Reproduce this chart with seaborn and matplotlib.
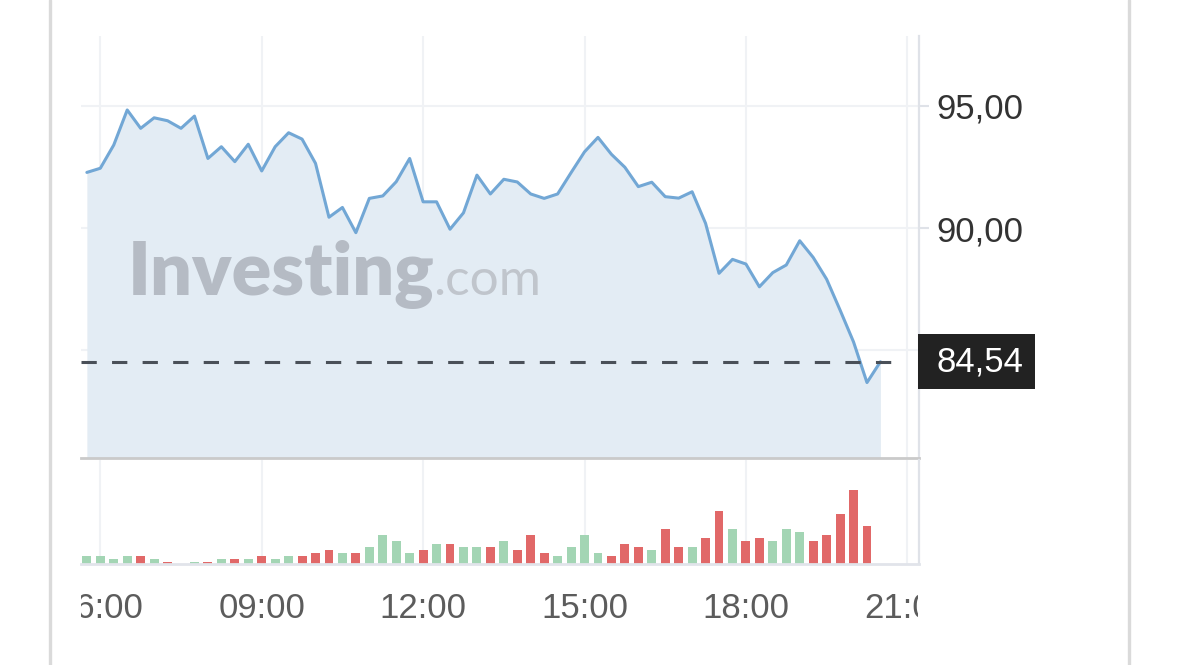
import numpy as np
import pandas as pd
import matplotlib
matplotlib.use("Agg")
import matplotlib.pyplot as plt
import seaborn as sns
from matplotlib.transforms import Bbox, TransformedBbox, blended_transform_factory
from matplotlib.lines import Line2D
from matplotlib.patches import Rectangle

# ---------------- data ----------------
price = [92.27, 92.44, 93.39, 94.82, 94.07, 94.50, 94.38, 94.07, 94.57, 92.84,
         93.32, 92.71, 93.42, 92.33, 93.32, 93.89, 93.63, 92.64, 90.44, 90.84,
         89.81, 91.21, 91.31, 91.89, 92.84, 91.07, 91.07, 89.95, 90.62, 92.16,
         91.39, 91.99, 91.88, 91.39, 91.21, 91.39, 92.26, 93.11, 93.70, 93.01,
         92.48, 91.69, 91.87, 91.28, 91.22, 91.48, 90.19, 88.15, 88.72, 88.53,
         87.60, 88.18, 88.49, 89.48, 88.80, 87.91, 86.65, 85.35, 83.69, 84.54]
volume = [8, 8, 5, 8, 8, 5, 2, 0, 2, 2,
          5, 5, 5, 8, 5, 8, 8, 11, 14, 11,
          11, 17, 29, 23, 11, 14, 20, 20, 17, 17,
          17, 23, 14, 29, 11, 8, 17, 29, 11, 8,
          20, 17, 14, 35, 17, 17, 26, 53, 35, 23,
          26, 23, 35, 32, 23, 29, 50, 74, 38]
direction = list("GGGGRGRGGR" "GRGRGGRRRG" "RGGGGRGRGG" "RGRRRGGGGR"
                 "RRGRRGRRGR" "RGGGRRRRR")
tick_hours = [6, 9, 12, 15, 18, 21]
tick_labels = ["06:00", "09:00", "12:00", "15:00", "18:00", "21:00"]
ytick_values = [85, 90, 95]
ytick_labels = ["", "90,00", "95,00"]
last_price = 84.54
last_label = "84,54"

times = pd.date_range("2024-01-01 05:45", periods=len(price), freq="15min")
hours = np.asarray(times.hour + times.minute / 60.0, dtype=float)

# ---------------- style ----------------
sns.set_theme(style="white")
plt.rcParams["font.family"] = ["Liberation Sans", "DejaVu Sans"]

W, H = 1179, 665
fig = plt.figure(figsize=(W / 100, H / 100), dpi=100)
fig.patch.set_facecolor("white")

def fx(px):
    return px / W

def fy(py):
    return 1 - py / H

left, right = 81, 919
ax = fig.add_axes([fx(left), fy(458), (right - left) / W, (458 - 36) / H])
axv = fig.add_axes([fx(left), fy(564), (right - left) / W, (564 - 460) / H])

XMIN, XMAX = 5.641, 21.217
YMIN, YMAX = 80.61, 97.84

LINE = "#72a7d5"
FILL = "#e3ecf4"
GREEN = "#a3d5b4"
RED = "#e16868"
GRID = "#f0f2f5"
SPINE = "#dfe2e8"

# price area + line
ax.fill_between(hours, price, YMIN, color=FILL, lw=0, zorder=1)
sns.lineplot(x=hours, y=price, ax=ax, color=LINE, lw=2.2, zorder=3)
ax.axhline(last_price, xmin=0, xmax=0.983, color="#4a5058", lw=2.2,
           dashes=(5, 5), zorder=4)

ax.set_xlim(XMIN, XMAX)
ax.set_ylim(YMIN, YMAX)
ax.set_xticks(tick_hours)
ax.set_yticks(ytick_values)
ax.set_yticklabels(ytick_labels)
ax.yaxis.tick_right()
ax.tick_params(axis="x", length=0, labelbottom=False)
ax.tick_params(axis="y", length=7, width=1.5, color=SPINE, pad=5.5,
               labelsize=25, labelcolor="#333333")
ax.grid(True, color=GRID, lw=1.5, zorder=0)
ax.set_axisbelow(True)
for s in ["left", "top"]:
    ax.spines[s].set_visible(False)
ax.spines["right"].set_color(SPINE)
ax.spines["right"].set_linewidth(1.6)
ax.spines["bottom"].set_color("#cacaca")
ax.spines["bottom"].set_linewidth(2.0)

# watermark
ax.text(fx(128), fy(295), "Investing", transform=fig.transFigure,
        fontfamily="Lato", fontweight="heavy", fontsize=53, color="#b5bbc4",
        ha="left", va="baseline", zorder=2)
ax.text(fx(433), fy(295), ".com", transform=fig.transFigure,
        fontfamily="Lato", fontweight="normal", fontsize=37, color="#c0c5cc",
        ha="left", va="baseline", zorder=2)

# last price label
bt = blended_transform_factory(ax.transAxes, ax.transData)
box_h = 55 / ((458 - 36) / (YMAX - YMIN))
ax.add_patch(Rectangle(((918 - left) / (right - left), last_price - box_h / 2),
                       117 / (right - left), box_h, transform=bt,
                       facecolor="#222222", edgecolor="none", clip_on=False,
                       zorder=6))
ax.text((937 - left) / (right - left), last_price, last_label, transform=bt,
        ha="left", va="center", fontsize=25, color="white", zorder=7,
        clip_on=False)

# volume bars
cols = [GREEN if d == "G" else RED for d in direction]
axv.bar(hours[:len(volume)], volume, width=0.165, color=cols, lw=0, zorder=2)
axv.set_xlim(XMIN, XMAX)
axv.set_ylim(0, 104)
axv.set_xticks(tick_hours)
axv.set_xticklabels(tick_labels)
axv.set_yticks([])
axv.tick_params(axis="x", length=11, width=1.5, color=SPINE, pad=9,
                labelsize=25, labelcolor="#5c5c5c")
axv.grid(True, axis="x", color=GRID, lw=1.5, zorder=0)
axv.set_axisbelow(True)
for s in ["left", "top"]:
    axv.spines[s].set_visible(False)
axv.spines["right"].set_color(SPINE)
axv.spines["right"].set_linewidth(1.6)
axv.spines["bottom"].set_color("#e1e4ea")
axv.spines["bottom"].set_linewidth(2.0)

clip = TransformedBbox(Bbox([[fx(81), 0], [fx(918), 1]]), fig.transFigure)
for lbl in axv.get_xticklabels():
    lbl.set_clip_on(True)
    lbl.set_clip_box(clip)

# outer frame lines
for xp in (50, 1129):
    fig.add_artist(Line2D([fx(xp), fx(xp)], [0, 1], transform=fig.transFigure,
                          color="#dadada", lw=2.4))

fig.savefig("out.png", dpi=100)
